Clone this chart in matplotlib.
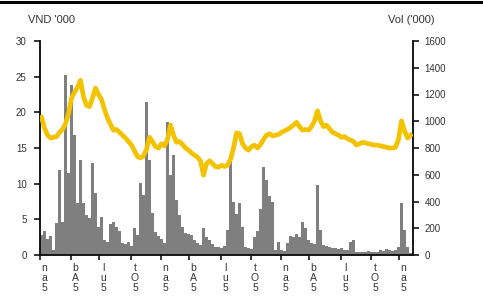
import matplotlib
matplotlib.use("Agg")
import matplotlib.pyplot as plt
import matplotlib.transforms as mtransforms
from matplotlib.lines import Line2D

plt.rcParams['font.family'] = ['Liberation Sans', 'DejaVu Sans']

# Price (VND '000), one value per ~week-bin
price = [19.3, 17.8, 16.8, 16.4, 16.5, 16.6, 17.2, 17.6, 18.4, 19.8,
         22.0, 22.8, 23.5, 24.5, 22.2, 21.0, 20.8, 22.0, 23.4, 22.5,
         21.8, 20.4, 19.2, 18.3, 17.5, 17.6, 17.2, 16.8, 16.4, 15.9,
         15.4, 14.6, 13.8, 13.6, 13.9, 14.8, 16.5, 15.9, 15.2, 15.0,
         15.6, 15.3, 16.2, 18.2, 16.8, 15.8, 15.9, 15.5, 15.0, 14.7,
         14.3, 14.0, 13.7, 13.2, 11.2, 12.8, 13.2, 12.8, 12.4, 12.3,
         12.6, 12.4, 12.6, 13.4, 15.0, 17.1, 17.0, 15.6, 15.0, 14.7,
         15.2, 15.4, 15.0, 15.5, 16.2, 16.8, 17.0, 16.7, 16.8, 16.9,
         17.2, 17.4, 17.6, 17.9, 18.2, 18.6, 18.0, 17.5, 17.6, 17.5,
         18.0, 18.8, 20.2, 18.8, 18.0, 18.2, 17.7, 17.2, 17.0, 16.8,
         16.5, 16.6, 16.3, 16.1, 15.9, 15.4, 15.6, 15.8, 15.7, 15.6,
         15.5, 15.4, 15.4, 15.3, 15.2, 15.1, 15.0, 15.0, 15.1, 16.2,
         18.8, 17.4, 16.4, 16.8]

# Volume ('000)
volume = [150, 180, 120, 140, 40, 240, 635, 250, 1345, 610,
          1270, 900, 390, 710, 390, 300, 280, 690, 460, 210,
          285, 112, 100, 230, 250, 210, 180, 90, 80, 95,
          70, 200, 150, 540, 450, 1145, 710, 315, 170, 140,
          120, 90, 995, 600, 750, 410, 300, 210, 165, 160,
          150, 110, 90, 75, 200, 135, 110, 80, 60, 60,
          55, 65, 187, 710, 400, 310, 390, 210, 60, 50,
          45, 135, 180, 345, 660, 560, 440, 400, 35, 100,
          35, 30, 90, 140, 135, 160, 135, 250, 200, 112,
          90, 80, 520, 185, 75, 70, 60, 50, 50, 45,
          50, 35, 35, 100, 110, 25, 20, 25, 20, 30,
          25, 20, 25, 35, 30, 45, 35, 30, 40, 60,
          390, 190, 60, 15]

tick_labels = ["n\na\n5", "b\nA\n5", "l\nu\n5", "t\nO\n5",
               "n\na\n5", "b\nA\n5", "l\nu\n5", "t\nO\n5",
               "n\na\n5", "b\nA\n5", "l\nu\n5", "t\nO\n5",
               "n\na\n5"]
tick_pos = [-0.5, 9.83, 19.17, 29.83, 39.83, 49.17, 59.83, 69.83,
            79.83, 89.17, 99.83, 109.83, 119.17]

price_ticks = [0, 5, 10, 15, 20, 25, 30]
vol_ticks = [0, 200, 400, 600, 800, 1000, 1200, 1400, 1600]

fig = plt.figure(figsize=(4.83, 3.0), dpi=100)
ax2 = fig.add_axes([40/483, 45/300, 373/483, 214/300])
ax = ax2.twinx()
ax.yaxis.tick_left()
ax.yaxis.set_label_position('left')
ax2.yaxis.tick_right()

x = list(range(len(volume)))
ax2.bar(x, volume, width=1.0, color='#7f7f7f', linewidth=0, zorder=1)
ax.plot(range(len(price)), price, color='#F3C200', lw=3.4, zorder=3,
        solid_joinstyle='round')

ax.set_zorder(ax2.get_zorder() + 1)
ax.patch.set_visible(False)

for a in (ax, ax2):
    a.set_xlim(-0.5, 123.83)
    a.spines['top'].set_visible(False)
    for s in ('left', 'right', 'bottom'):
        a.spines[s].set_linewidth(1.1)
        a.spines[s].set_color('#111111')

ax.set_ylim(0, 30)
ax2.set_ylim(0, 1600)
ax.set_yticks(price_ticks)
ax2.set_yticks(vol_ticks)

ax.tick_params(axis='y', direction='out', length=4.5, width=1.1, pad=5,
               labelsize=7, labelcolor='#333333', left=True, right=False,
               labelleft=True, labelright=False)
ax2.tick_params(axis='y', direction='out', length=4, width=1.1, pad=4.5,
                labelsize=7, labelcolor='#333333', right=True, left=False,
                labelright=True, labelleft=False)

ax2.set_xticks(tick_pos)
ax2.set_xticklabels(tick_labels, fontsize=7.5, linespacing=0.95,
                    color='#333333', va='top')
ax2.tick_params(axis='x', direction='out', length=3.5, width=1.1, pad=2.5)
ax.tick_params(axis='x', bottom=False, labelbottom=False)
offset = mtransforms.ScaledTranslation(4/100, 0, fig.dpi_scale_trans)
for lbl in ax2.get_xticklabels():
    lbl.set_transform(lbl.get_transform() + offset)

fig.text(51/483, 1 - 20/300, "VND '000", ha='center', va='center',
         fontsize=8, color='#333333')
fig.text(411/483, 1 - 20/300, "Vol ('000)", ha='center', va='center',
         fontsize=8, color='#333333')

fig.add_artist(Line2D([0, 1], [1 - 2/300, 1 - 2/300], color='black',
                      lw=2.2, transform=fig.transFigure))

fig.savefig('out.png', dpi=100)
